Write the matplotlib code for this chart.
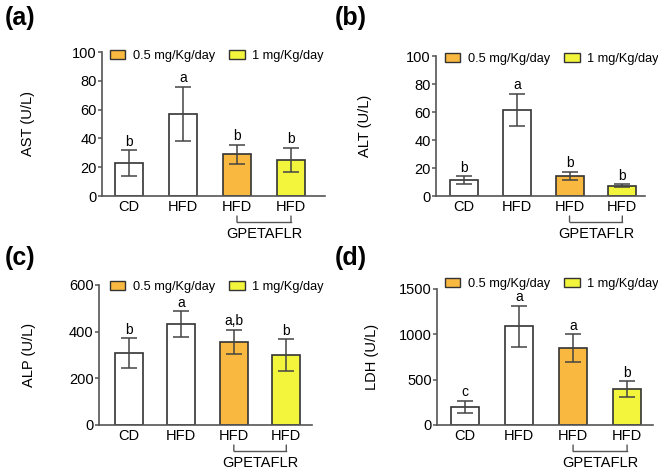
import matplotlib
matplotlib.use("Agg")
import matplotlib.pyplot as plt
import matplotlib.transforms as mtransforms
from matplotlib.patches import Patch

plt.rcParams['font.family'] = ['Liberation Sans', 'DejaVu Sans']

categories = ["CD", "HFD", "HFD", "HFD"]
group_label = "GPETAFLR"
legend_labels = ["0.5 mg/Kg/day", "1 mg/Kg/day"]

ast_mean = [23, 57, 29, 25]
ast_err = [9, 19, 6.5, 8.5]
ast_sig = ["b", "a", "b", "b"]

alt_mean = [11.5, 61.5, 14.5, 7.5]
alt_err = [2.7, 11.7, 3, 1]
alt_sig = ["b", "a", "b", "b"]

alp_mean = [307, 433, 356, 300]
alp_err = [64, 54, 53, 68]
alp_sig = ["b", "a", "a,b", "b"]

ldh_mean = [200, 1090, 850, 397]
ldh_err = [70, 225, 150, 85]
ldh_sig = ["c", "a", "a", "b"]

colors = ["white", "white", "#F9B940", "#F2F53C"]
edge = "#333333"

W, H = 658, 470
fig = plt.figure(figsize=(W / 100, H / 100), dpi=100)

panels = [
    dict(px=(102, 325, 52, 196), mean=ast_mean, err=ast_err, sig=ast_sig, ylabel="AST (U/L)",
         ylim=100, yticks=[0, 20, 40, 60, 80, 100], xlim=(-0.5, 3.63), letter="(a)", lxp=28,
         letter_xy=(5, 6), leg=(8, 4)),
    dict(px=(436, 645, 56, 196), mean=alt_mean, err=alt_err, sig=alt_sig, ylabel="ALT (U/L)",
         ylim=100, yticks=[0, 20, 40, 60, 80, 100], xlim=(-0.53, 3.43), letter="(b)", lxp=365,
         letter_xy=(335, 6), leg=(9, 3)),
    dict(px=(99, 312, 285, 425), mean=alp_mean, err=alp_err, sig=alp_sig, ylabel="ALP (U/L)",
         ylim=600, yticks=[0, 200, 400, 600], xlim=(-0.57, 3.49), letter="(c)", lxp=29,
         letter_xy=(5, 246), leg=(11, 2)),
    dict(px=(437, 653, 289, 425), mean=ldh_mean, err=ldh_err, sig=ldh_sig, ylabel="LDH (U/L)",
         ylim=1500, yticks=[0, 500, 1000, 1500], xlim=(-0.52, 3.48), letter="(d)", lxp=372,
         letter_xy=(335, 246), leg=(8, -5)),
]

for p in panels:
    l, r, t, b = p["px"]
    wpx, hpx = r - l, b - t
    ax = fig.add_axes([l / W, (H - b) / H, wpx / W, hpx / H])
    x = list(range(len(categories)))
    ax.bar(x, p["mean"], width=0.53, color=colors, edgecolor=edge, linewidth=1.2, zorder=2)
    ax.errorbar(x, p["mean"], yerr=p["err"], fmt="none", ecolor="#444444", elinewidth=1.1,
                capsize=5.5, capthick=1.1, zorder=3)
    for xi, m, e, s in zip(x, p["mean"], p["err"], p["sig"]):
        ax.annotate(s, (xi, m + e), xytext=(0, 1), textcoords="offset points",
                    ha="center", va="bottom", fontsize=10)
    ax.set_ylim(0, p["ylim"])
    ax.set_xlim(*p["xlim"])
    ax.set_yticks(p["yticks"])
    ax.set_xticks(x)
    ax.set_xticklabels(categories, fontsize=10.5)
    ax.tick_params(axis="x", length=0, pad=3)
    ax.tick_params(axis="y", length=3, width=1.1, color="#555555", labelsize=10.5, pad=0.8)
    for s in ["top", "right"]:
        ax.spines[s].set_visible(False)
    for s in ["left", "bottom"]:
        ax.spines[s].set_color("#555555")
        ax.spines[s].set_linewidth(1.2)
    ax.set_ylabel(p["ylabel"], fontsize=10.5)
    ax.yaxis.label.set_verticalalignment("center")
    ax.yaxis.set_label_coords((p["lxp"] - l) / wpx, 0.5)

    # bracket under GPETAFLR groups
    trans = mtransforms.blended_transform_factory(ax.transData, ax.transAxes)
    line_t = mtransforms.offset_copy(trans, fig=fig, x=0, y=-26, units="dots")
    tick_t = mtransforms.offset_copy(trans, fig=fig, x=0, y=-20, units="dots")
    ax.plot([2, 3], [0, 0], color="#555555", lw=1, transform=line_t, clip_on=False)
    for xv in (2, 3):
        ax.annotate("", xy=(xv, 0), xycoords=line_t, xytext=(xv, 0), textcoords=tick_t,
                    arrowprops=dict(arrowstyle="-", color="#555555", lw=1,
                                    shrinkA=0, shrinkB=0))
    text_t = mtransforms.offset_copy(trans, fig=fig, x=0, y=-38, units="dots")
    ax.text(2.5, 0, group_label, transform=text_t, ha="center", va="center", fontsize=10.5)

    handles = [Patch(facecolor=colors[2], edgecolor=edge, linewidth=1),
               Patch(facecolor=colors[3], edgecolor=edge, linewidth=1)]
    lx, ly = p["leg"]
    ax.legend(handles, legend_labels, ncol=2, loc="center left",
              bbox_to_anchor=(lx / wpx, 1 - ly / hpx),
              frameon=False, fontsize=9.2, handlelength=1.2, handleheight=0.7,
              columnspacing=1.1, handletextpad=0.6, borderaxespad=0, borderpad=0)

    fig.text(p["letter_xy"][0] / W, 1 - p["letter_xy"][1] / H, p["letter"], fontsize=18,
             fontweight="bold", ha="left", va="top")

fig.savefig("out.png", dpi=100)
